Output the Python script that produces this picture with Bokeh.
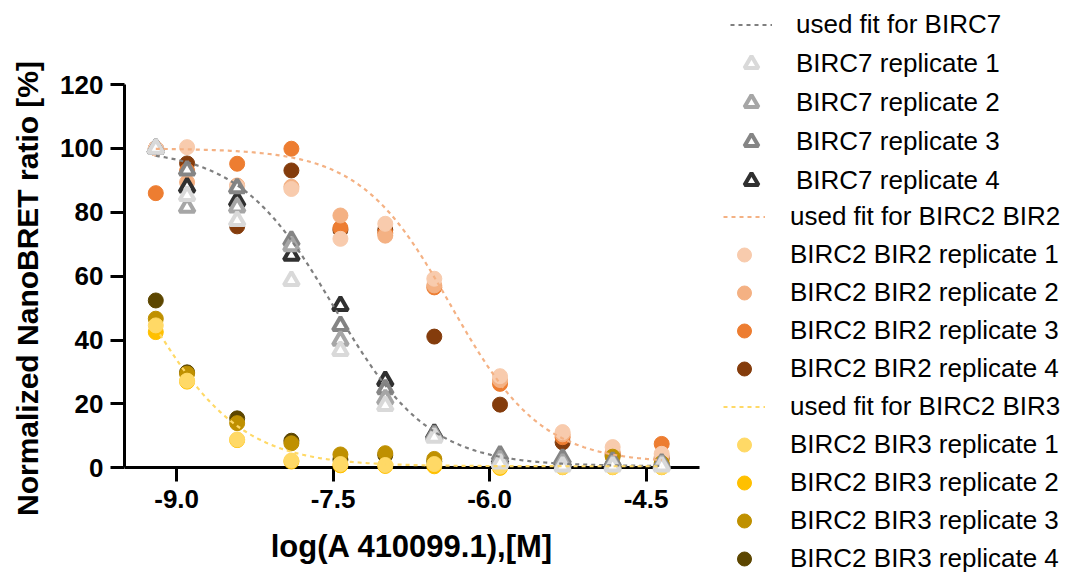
import numpy as np
from bokeh.plotting import figure
from bokeh.models import Range1d, FixedTicker, Legend, LegendItem
from bokeh.embed import file_html
from bokeh.resources import INLINE

# ---------------- data ----------------
log_conc = [-9.2, -8.9, -8.42, -7.9, -7.43, -7.0, -6.53, -5.9, -5.3, -4.82, -4.35]

birc7_rep1 = [100, 85.2, 77.4, 58.6, 36.7, 19.5, 9.5, 1.5, 0.5, 0.5, 0.5]
birc7_rep2 = [100, 81.5, 81.6, 69.5, 39.9, 21.6, 10.0, 2.5, 1.5, 1.0, 1.0]
birc7_rep3 = [100, 93.2, 87.6, 71.2, 44.5, 24.7, 10.5, 4.0, 3.0, 2.0, 1.5]
birc7_rep4 = [100, 87.9, 83.6, 66.5, 50.8, 27.3, 10.8, 3.0, 2.0, 1.5, 1.0]

bir2_rep1 = [100, 100.4, 88.0, 87.3, 71.7, 76.4, 59.2, 28.7, 11.2, 6.5, 4.4]
bir2_rep2 = [100, 89.4, 88.4, 88.0, 79.0, 72.7, 57.1, 27.5, 10.5, 4.9, 3.5]
bir2_rep3 = [86.0, 93.0, 95.2, 99.9, 75.1, 73.5, 56.5, 26.3, 9.6, 4.5, 7.5]
bir2_rep4 = [100, 95.3, 75.6, 93.1, 74.5, 74.5, 41.1, 19.8, 8.0, 4.0, 3.0]

bir3_rep1 = [44.6, 27.3, 8.9, 2.3, 1.2, 0.9, 1.2, 0.4, 0.3, 0.3, 0.3]
bir3_rep2 = [42.5, 27.0, 8.7, 2.0, 0.8, 0.6, 0.5, 0.0, 0.2, 0.2, 0.2]
bir3_rep3 = [46.7, 29.5, 14.0, 7.7, 4.2, 4.6, 2.8, 1.0, 0.8, 3.5, 1.5]
bir3_rep4 = [52.4, 29.9, 15.5, 8.5, 2.6, 4.0, 2.0, 0.8, 0.5, 1.0, 1.0]

# fitted 4-parameter logistic parameters (BIRC7, BIRC2 BIR2, BIRC2 BIR3)
fit_names = ["BIRC7", "BIRC2 BIR2", "BIRC2 BIR3"]
fit_top = [100.0, 100.0, 100.0]
fit_bottom = [0.5, 1.5, 0.5]
fit_log_ic50 = [-7.49, -6.37, -9.32]
fit_hill = [0.95, 1.0, 0.93]
fit_range = [-9.2, -4.35]

x_ticks = [-9.0, -7.5, -6.0, -4.5]
x_tick_labels = ["-9.0", "-7.5", "-6.0", "-4.5"]
y_ticks = [0, 20, 40, 60, 80, 100, 120]

# ---------------- styling ----------------
FONT = "Liberation Sans"
birc7_colors = ["#d9d9d9", "#a6a6a6", "#858585", "#303030"]
bir2_colors = ["#f8cbad", "#f4b183", "#ed7d31", "#843c0c"]
bir3_colors = ["#ffd966", "#ffc000", "#bf9000", "#5c4600"]
fit_colors = ["#7f7f7f", "#f4b183", "#ffd966"]

# frame covers the canvas right of the y axis; axes limited with bounds
p = figure(width=1068, height=576,
           x_range=Range1d(-9.5, -0.45), y_range=Range1d(-34.0, 146.3),
           output_backend="svg", toolbar_location=None,
           min_border_left=124, min_border_right=0,
           min_border_top=0, min_border_bottom=0)
p.grid.visible = False
p.outline_line_color = None
p.background_fill_color = "white"

for ax in (p.xaxis[0], p.yaxis[0]):
    ax.axis_line_width = 3
    ax.axis_line_color = "black"
    ax.major_tick_line_width = 3
    ax.major_tick_line_color = "black"
    ax.major_tick_out = 14
    ax.major_tick_in = 0
    ax.minor_tick_line_color = None
    ax.major_label_text_font = FONT
    ax.major_label_text_font_style = "bold"
    ax.major_label_text_font_size = "26px"
    ax.major_label_text_color = "black"
    ax.axis_label_text_font = FONT
    ax.axis_label_text_font_style = "bold"
    ax.axis_label_text_color = "black"

p.xaxis.fixed_location = 0
p.xaxis.bounds = (-9.5, -3.99)
p.xaxis.ticker = FixedTicker(ticks=x_ticks)
p.xaxis.major_label_overrides = {t: l for t, l in zip(x_ticks, x_tick_labels)}
p.xaxis.axis_label = "log(A 410099.1),[M]"
p.xaxis.axis_label_text_font_size = "31px"
p.xaxis.major_label_standoff = 8
p.xaxis.axis_label_standoff = 18

p.yaxis.bounds = (0, 120)
p.yaxis.ticker = FixedTicker(ticks=y_ticks)
p.yaxis.axis_label = "Normalized NanoBRET ratio [%]"
p.yaxis.axis_label_text_font_size = "30px"
p.yaxis.major_label_standoff = 7
p.yaxis.axis_label_standoff = 13

bir2_data = [bir2_rep1, bir2_rep2, bir2_rep3, bir2_rep4]
bir3_data = [bir3_rep1, bir3_rep2, bir3_rep3, bir3_rep4]
birc7_data = [birc7_rep1, birc7_rep2, birc7_rep3, birc7_rep4]

r_bir2 = [None] * 4
r_bir3 = [None] * 4
r_birc7 = [None] * 4
for i in (3, 2, 1, 0):
    r_bir2[i] = p.scatter(log_conc, bir2_data[i], marker="circle", size=15, level="overlay",
                          fill_color=bir2_colors[i], line_color=bir2_colors[i], line_width=1)
for i in (3, 2, 1, 0):
    r_bir3[i] = p.scatter(log_conc, bir3_data[i], marker="circle", size=15, level="overlay",
                          fill_color=bir3_colors[i], line_color=bir3_colors[i], line_width=1)
for i in (3, 2, 1, 0):
    r_birc7[i] = p.scatter(log_conc, birc7_data[i], marker="triangle", size=15, level="overlay",
                           fill_color="white", line_color=birc7_colors[i], line_width=4)

xs = np.linspace(fit_range[0], fit_range[1], 300)
r_fit = []
for k in range(3):
    ys = fit_bottom[k] + (fit_top[k] - fit_bottom[k]) / (1 + 10 ** ((xs - fit_log_ic50[k]) * fit_hill[k]))
    r = p.line(xs, ys, line_color=fit_colors[k], line_width=2.2, line_dash="4 4", level="overlay")
    r_fit.append(r)

leg_common = dict(padding=0, margin=0, border_line_alpha=0, background_fill_alpha=0,
                  label_text_font=FONT, label_text_font_size="26px", label_text_color="black",
                  glyph_width=42, glyph_height=35, label_height=35)

items1 = [LegendItem(label="used fit for BIRC7", renderers=[r_fit[0]])]
items1 += [LegendItem(label=f"BIRC7 replicate {i+1}", renderers=[r_birc7[i]]) for i in range(4)]
leg1 = Legend(items=items1, location=(606, 378.5), label_standoff=24, spacing=4, **leg_common)
p.add_layout(leg1)

items2 = [LegendItem(label="used fit for BIRC2 BIR2", renderers=[r_fit[1]])]
items2 += [LegendItem(label=f"BIRC2 BIR2 replicate {i+1}", renderers=[r_bir2[i]]) for i in range(4)]
items2 += [LegendItem(label="used fit for BIRC2 BIR3", renderers=[r_fit[2]])]
items2 += [LegendItem(label=f"BIRC2 BIR3 replicate {i+1}", renderers=[r_bir3[i]]) for i in range(4)]
leg2 = Legend(items=items2, location=(599, 0.5), label_standoff=25, spacing=3, **leg_common)
p.add_layout(leg2)

open("out.html", "w").write(file_html(p, INLINE))
